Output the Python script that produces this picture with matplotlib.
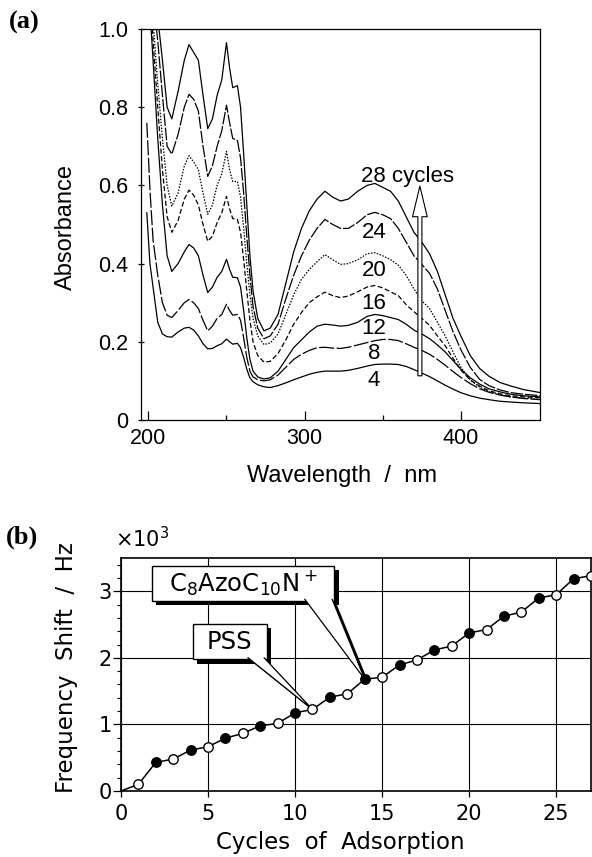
import matplotlib
matplotlib.use("Agg")
import matplotlib.pyplot as plt
import matplotlib.patheffects as pe
from matplotlib.patches import Rectangle, Polygon
from matplotlib.ticker import MultipleLocator, FixedLocator, FuncFormatter

# ---- panel (a): UV-vis spectra after n adsorption cycles ----
wavelength = [199, 201, 203, 206, 209, 212, 215, 219, 223, 226,
              229, 232, 235, 238, 241, 244, 247, 250, 252, 254,
              257, 259, 261, 263, 265, 267, 270, 274, 278, 283,
              288, 293, 298, 303, 308, 313, 318, 323, 328, 334,
              340, 345, 350, 355, 360, 365, 370, 375, 380, 385,
              390, 395, 400, 406, 412, 418, 425, 432, 440, 451]

abs_28 = [1.40, 1.30, 1.15, 1.03, 0.92, 0.80, 0.77, 0.84, 0.92, 0.96,
          0.94, 0.92, 0.83, 0.745, 0.77, 0.83, 0.87, 0.965, 0.90, 0.85,
          0.855, 0.80, 0.68, 0.55, 0.42, 0.33, 0.26, 0.228, 0.235, 0.27,
          0.35, 0.43, 0.49, 0.535, 0.565, 0.585, 0.57, 0.56, 0.565, 0.585,
          0.60, 0.605, 0.595, 0.585, 0.56, 0.52, 0.48, 0.455, 0.425, 0.38,
          0.32, 0.26, 0.215, 0.165, 0.132, 0.112, 0.096, 0.087, 0.078, 0.070]
abs_24 = [1.32, 1.22, 1.08, 0.97, 0.83, 0.70, 0.68, 0.73, 0.80, 0.833,
          0.82, 0.79, 0.70, 0.623, 0.65, 0.70, 0.74, 0.805, 0.76, 0.72,
          0.715, 0.67, 0.58, 0.47, 0.37, 0.29, 0.235, 0.208, 0.215, 0.245,
          0.31, 0.37, 0.42, 0.46, 0.49, 0.513, 0.50, 0.49, 0.49, 0.505,
          0.525, 0.531, 0.525, 0.515, 0.49, 0.455, 0.42, 0.398, 0.375, 0.335,
          0.28, 0.226, 0.18, 0.135, 0.104, 0.088, 0.077, 0.070, 0.066, 0.062]
abs_20 = [1.28, 1.17, 1.02, 0.86, 0.72, 0.60, 0.547, 0.58, 0.65, 0.676,
          0.66, 0.64, 0.58, 0.526, 0.55, 0.60, 0.63, 0.687, 0.64, 0.61,
          0.61, 0.57, 0.49, 0.40, 0.32, 0.26, 0.215, 0.193, 0.197, 0.22,
          0.27, 0.32, 0.36, 0.385, 0.405, 0.423, 0.41, 0.398, 0.40, 0.41,
          0.425, 0.428, 0.42, 0.41, 0.396, 0.37, 0.335, 0.305, 0.285, 0.25,
          0.215, 0.174, 0.135, 0.103, 0.084, 0.072, 0.064, 0.059, 0.056, 0.053]
abs_16 = [1.24, 1.12, 0.97, 0.80, 0.64, 0.52, 0.48, 0.51, 0.565, 0.588,
          0.575, 0.55, 0.50, 0.457, 0.47, 0.505, 0.53, 0.572, 0.54, 0.515,
          0.513, 0.48, 0.41, 0.33, 0.255, 0.20, 0.165, 0.148, 0.15, 0.17,
          0.205, 0.245, 0.275, 0.30, 0.315, 0.327, 0.318, 0.313, 0.317, 0.328,
          0.34, 0.344, 0.338, 0.328, 0.318, 0.295, 0.277, 0.26, 0.242, 0.215,
          0.19, 0.158, 0.128, 0.102, 0.087, 0.075, 0.067, 0.062, 0.059, 0.057]
abs_12 = [1.18, 1.05, 0.92, 0.72, 0.55, 0.42, 0.38, 0.40, 0.43, 0.449,
          0.44, 0.42, 0.37, 0.326, 0.34, 0.365, 0.38, 0.411, 0.385, 0.365,
          0.364, 0.34, 0.28, 0.21, 0.155, 0.125, 0.11, 0.105, 0.108, 0.125,
          0.155, 0.185, 0.205, 0.225, 0.24, 0.245, 0.243, 0.24, 0.242, 0.25,
          0.265, 0.27, 0.267, 0.262, 0.257, 0.245, 0.23, 0.22, 0.208, 0.192,
          0.174, 0.152, 0.130, 0.108, 0.092, 0.080, 0.072, 0.066, 0.062, 0.059]
abs_8 = [0.76, 0.59, 0.46, 0.37, 0.30, 0.268, 0.262, 0.28, 0.30, 0.308,
         0.30, 0.285, 0.255, 0.228, 0.24, 0.26, 0.27, 0.296, 0.28, 0.268,
         0.27, 0.255, 0.21, 0.16, 0.125, 0.11, 0.103, 0.10, 0.103, 0.115,
         0.135, 0.155, 0.168, 0.178, 0.185, 0.186, 0.184, 0.183, 0.186, 0.192,
         0.198, 0.203, 0.206, 0.206, 0.203, 0.195, 0.186, 0.178, 0.168, 0.155,
         0.14, 0.124, 0.109, 0.093, 0.080, 0.071, 0.064, 0.059, 0.055, 0.052]
abs_4 = [0.53, 0.40, 0.34, 0.25, 0.22, 0.213, 0.212, 0.225, 0.235, 0.237,
         0.23, 0.215, 0.195, 0.182, 0.183, 0.19, 0.195, 0.207, 0.20, 0.194,
         0.196, 0.185, 0.16, 0.13, 0.108, 0.098, 0.09, 0.085, 0.083, 0.088,
         0.095, 0.103, 0.11, 0.117, 0.122, 0.125, 0.125, 0.125, 0.127, 0.132,
         0.138, 0.142, 0.143, 0.143, 0.142, 0.137, 0.129, 0.12, 0.111, 0.10,
         0.089, 0.079, 0.070, 0.062, 0.056, 0.052, 0.048, 0.046, 0.044, 0.042]

spectra = [abs_28, abs_24, abs_20, abs_16, abs_12, abs_8, abs_4]
curve_labels = ["24", "20", "16", "12", "8", "4"]
label_heights = [0.466, 0.368, 0.285, 0.219, 0.157, 0.0875]

# ---- panel (b): QCM frequency shift ----
cycles = list(range(28))
freq_shift = [0, 100, 430, 480, 615, 665, 795, 865, 980, 1015,
              1175, 1225, 1410, 1460, 1680, 1708, 1894, 1968, 2118, 2178,
              2375, 2425, 2626, 2688, 2900, 2948, 3188, 3235]

line_styles = ['-', (0, (10, 1.5)), (0, (1.2, 1.2)), (0, (4, 2)), '-', (0, (12, 2)), '-']

fig = plt.figure(figsize=(5.92, 8.57), dpi=100)

ax1 = fig.add_axes([0.2377, 0.5099, 0.6753, 0.4563])
for vals, ls in zip(spectra, line_styles):
    ax1.plot(wavelength, vals, color='black', lw=0.9, ls=ls)
ax1.set_xlim(195.1, 451)
ax1.set_ylim(0, 1.0)
ax1.xaxis.set_major_locator(FixedLocator([200, 300, 400]))
ax1.xaxis.set_minor_locator(FixedLocator([250, 350]))
ax1.yaxis.set_major_locator(MultipleLocator(0.2))
ax1.yaxis.set_major_formatter(FuncFormatter(lambda v, p: '0' if abs(v) < 1e-9 else f'{v:.1f}'))
ax1.tick_params(axis='x', which='major', direction='in', length=6.5, width=0.9, pad=5.8)
ax1.tick_params(axis='x', which='minor', direction='in', length=3.5, width=0.9)
ax1.tick_params(axis='y', direction='inout', length=4, width=0.9, pad=7)
ax1.tick_params(labelsize=15.5, labelfontfamily='Liberation Sans')
for sp in ax1.spines.values():
    sp.set_linewidth(0.9)

ax1.text(365.8, 0.609, '28 cycles', ha='center', va='baseline',
         fontsize=16, family='Liberation Sans')
for lab, h in zip(curve_labels, label_heights):
    ax1.text(344.5, h, lab, ha='center', va='baseline', fontsize=16, family='Liberation Sans')

ax1.annotate('', xy=(373.8, 0.598), xytext=(373.8, 0.113),
             arrowprops=dict(arrowstyle='simple,head_length=2.2,head_width=1.06,tail_width=0.29',
                             fc='white', ec='black', lw=0.8, shrinkA=0, shrinkB=0,
                             mutation_scale=10), zorder=5)

# ---- panel (b) ----
ax2 = fig.add_axes([0.2044, 0.0770, 0.7939, 0.2719])
shift_k = [v / 1000 for v in freq_shift]
ax2.plot(cycles, shift_k, color='black', lw=1.1, zorder=3)
ax2.plot(cycles[2::2], shift_k[2::2], 'o', ms=6.8, mfc='black', mec='black', zorder=8, clip_on=False)
ax2.plot(cycles[1::2], shift_k[1::2], 'o', ms=6.8, mfc='white', mec='black', mew=1.0,
         zorder=8, clip_on=False)
ax2.set_xlim(0, 27)
ax2.set_ylim(0, 3.5)
ax2.xaxis.set_major_locator(MultipleLocator(5))
ax2.yaxis.set_major_locator(MultipleLocator(1))
ax2.yaxis.set_minor_locator(MultipleLocator(0.2))
ax2.grid(True, which='major', color='black', lw=0.8)
ax2.tick_params(axis='x', direction='out', length=4, width=0.9, pad=5, labelsize=15)
ax2.tick_params(axis='y', which='major', direction='out', length=6, width=0.9, pad=0.8, labelsize=15)
ax2.tick_params(axis='y', which='minor', direction='out', length=3, width=0.8)
for sp in ax2.spines.values():
    sp.set_linewidth(1.2)

shadow = [pe.SimplePatchShadow(offset=(3, -3), shadow_rgbFace='black', alpha=1.0), pe.Normal()]


def callout(ax, label, box, base, tip):
    x0, x1, y0, y1 = box
    rect = Rectangle((x0, y0), x1 - x0, y1 - y0, fc='white', ec='black', lw=1.0, zorder=6)
    rect.set_path_effects(shadow)
    ax.add_patch(rect)
    eps = 0.03
    wedge = Polygon([(base[0], y0 + eps), tip, (base[1], y0 + eps)], closed=False,
                    fc='white', ec='black', lw=0.9, zorder=6.5)
    wedge.set_path_effects(shadow)
    ax.add_patch(wedge)
    ax.text((x0 + x1) / 2, (y0 + y1) / 2, label, ha='center', va='center',
            fontsize=17.5, zorder=7)


callout(ax2, r'C$_8$AzoC$_{10}$N$^+$', (1.78, 12.26, 2.856, 3.386), (10.54, 12.12),
        (cycles[14], shift_k[14]))
callout(ax2, 'PSS', (4.12, 8.36, 1.977, 2.508), (7.27, 8.2),
        (cycles[11], shift_k[11]))

# ---- labels ----
W, H = 592, 857
fig.text(24 / W, 1 - 22 / H, '(a)', family='Liberation Serif', fontweight='bold',
         fontsize=19, ha='center', va='center')
fig.text(66 / W, 1 - 227 / H, 'Absorbance', rotation=90, family='Liberation Sans',
         fontsize=17, ha='center', va='center')
fig.text(342 / W, 1 - 476 / H, 'Wavelength  /  nm', family='Liberation Sans',
         fontsize=17, ha='center', va='center')
fig.text(22 / W, 1 - 537.5 / H, '(b)', family='Liberation Serif', fontweight='bold',
         fontsize=19, ha='center', va='center')
fig.text(115 / W, 1 - 547 / H, '×10$^3$', fontsize=15, ha='left', va='baseline')
fig.text(67 / W, 1 - 668 / H, 'Frequency  Shift  /  Hz', rotation=90,
         fontsize=16.5, ha='center', va='center')
fig.text(340 / W, 1 - 843 / H, 'Cycles  of  Adsorption', fontsize=16.5,
         ha='center', va='center')

fig.savefig('out.png', dpi=100)
